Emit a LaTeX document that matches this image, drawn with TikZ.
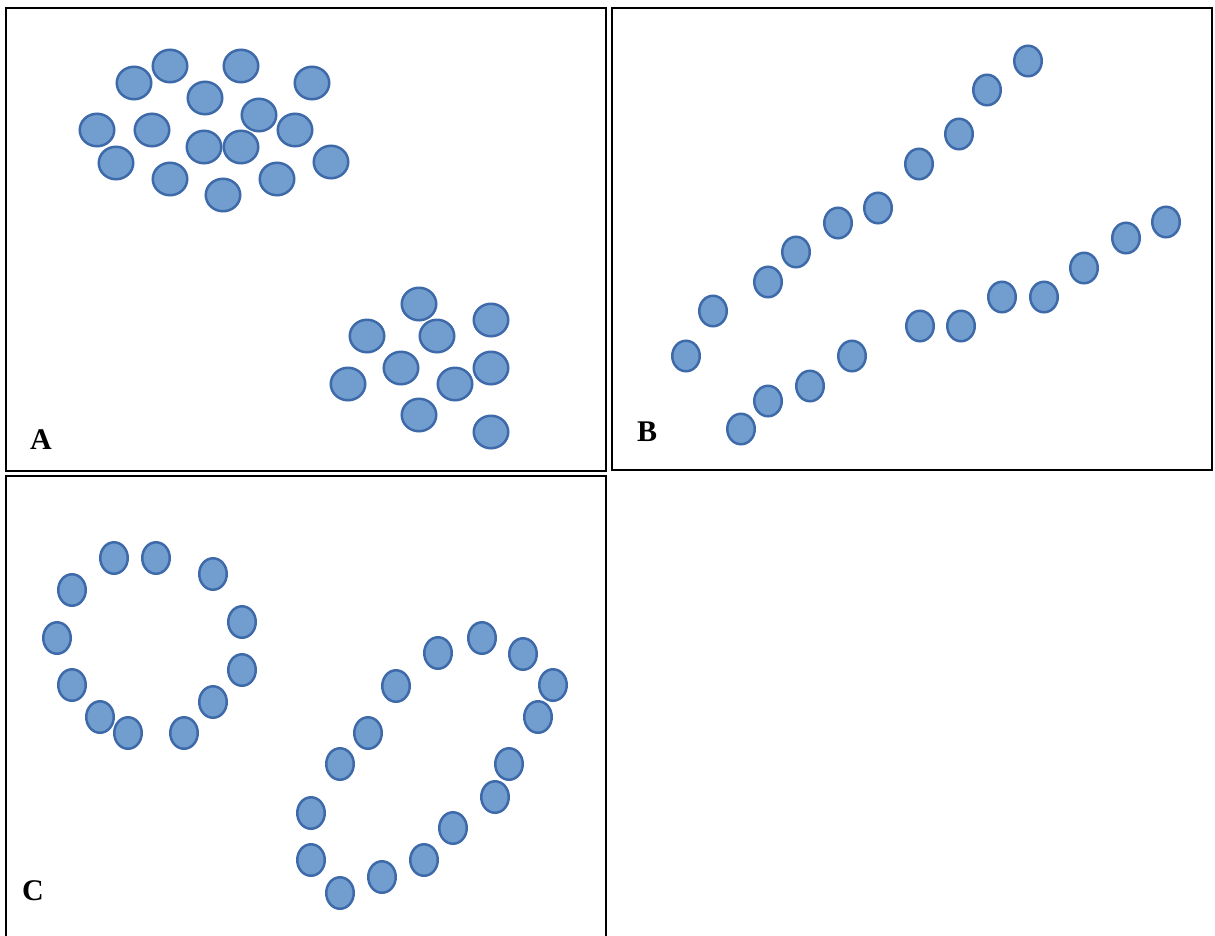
\documentclass[tikz,border=0pt]{standalone}
\usepackage{fontspec}
\setmainfont{Liberation Serif}
\definecolor{dotfill}{RGB}{113,158,206}
\definecolor{dotline}{RGB}{62,106,170}
\tikzset{
  panel/.style={draw=black, line width=2pt},
  dot/.style={fill=dotfill, draw=dotline, line width=2.5pt},
  lab/.style={font=\fontsize{30}{30}\selectfont\bfseries, inner sep=0pt}
}
\begin{document}
\begin{tikzpicture}[x=1pt,y=-1pt]
\clip (0,0) rectangle (1215,935);
\fill[white] (0,0) rectangle (1215,935);
% panels
\draw[panel] (6,8) rectangle (606,471);
\draw[panel] (612,8) rectangle (1212,470);
\draw[panel] (6,476) rectangle (606,960);
% panel A dots
\foreach \x/\y in {134/83,170/66,241/66,312/83,205/98,259/115,97/130,152/130,295/130,116/163,204/147,241/147,331/162,170/179,277/179,223/195,
  419/304,491/320,367/336,437/336,401/368,491/368,348/384,455/384,419/415,491/432}
  \draw[dot] (\x,\y) ellipse (17.25 and 16.25);
% panel B dots
\foreach \x/\y in {686/356,713/311,768/282,796/252,838/223,878/208,919/164,959/134,987/90,1028/61,
  741/429,768/401,810/386,852/356,920/326,961/326,1002/297,1044/297,1084/268,1126/238,1166/222}
  \draw[dot] (\x,\y) ellipse (13.75 and 15.25);
% panel C dots
\foreach \x/\y in {114/558,156/558,213/574,72/590,242/622,57/638,242/670,72/685,213/702,100/717,128/733,184/733,
  482/638,438/653,523/654,553/685,396/686,538/717,368/733,340/764,509/764,495/797,311/813,453/828,311/860,424/860,382/877,340/893}
  \draw[dot] (\x,\y) ellipse (13.75 and 15.75);
% labels
\node[lab] (la) at (41,440) {A};
\node[lab] (lb) at (647,432) {B};
\node[lab] (lc) at (33,891) {C};
\end{tikzpicture}
\end{document}
